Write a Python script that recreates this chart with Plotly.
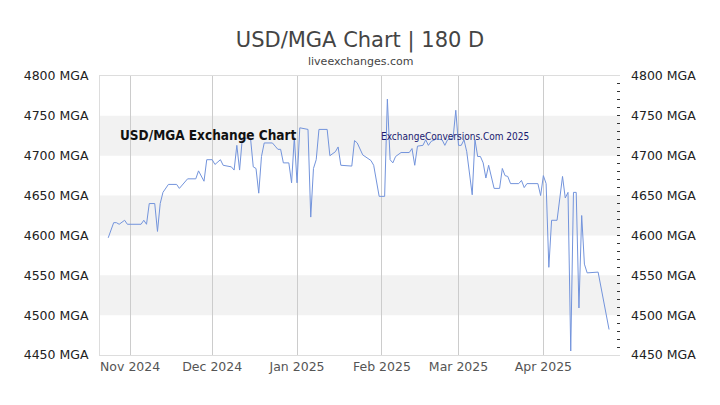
import plotly.graph_objects as go

dates = [
    "2024-10-24", "2024-10-26", "2024-10-27", "2024-10-28", "2024-10-30", "2024-10-31",
    "2024-11-05", "2024-11-06", "2024-11-07", "2024-11-08", "2024-11-10", "2024-11-11",
    "2024-11-12", "2024-11-13", "2024-11-15", "2024-11-18", "2024-11-19", "2024-11-22",
    "2024-11-25", "2024-11-26", "2024-11-28", "2024-11-29", "2024-12-01", "2024-12-02",
    "2024-12-04", "2024-12-05", "2024-12-08", "2024-12-09", "2024-12-10", "2024-12-11",
    "2024-12-12", "2024-12-15", "2024-12-16", "2024-12-17", "2024-12-18", "2024-12-19",
    "2024-12-20", "2024-12-23", "2024-12-24", "2024-12-25", "2024-12-26", "2024-12-27",
    "2024-12-29", "2024-12-30", "2024-12-31", "2025-01-01", "2025-01-02", "2025-01-05",
    "2025-01-06", "2025-01-07", "2025-01-08", "2025-01-09", "2025-01-12", "2025-01-13",
    "2025-01-15", "2025-01-16", "2025-01-17", "2025-01-21", "2025-01-22", "2025-01-23",
    "2025-01-25", "2025-01-26", "2025-01-28", "2025-01-29", "2025-01-31", "2025-02-02",
    "2025-02-03", "2025-02-04", "2025-02-05", "2025-02-06", "2025-02-08", "2025-02-11",
    "2025-02-12", "2025-02-13", "2025-02-14", "2025-02-16", "2025-02-17", "2025-02-18",
    "2025-02-19", "2025-02-21", "2025-02-23", "2025-02-24", "2025-02-25", "2025-02-27",
    "2025-02-28", "2025-03-01", "2025-03-02", "2025-03-03", "2025-03-04", "2025-03-06",
    "2025-03-07", "2025-03-08", "2025-03-09", "2025-03-10", "2025-03-11", "2025-03-12",
    "2025-03-14", "2025-03-16", "2025-03-17", "2025-03-18", "2025-03-19", "2025-03-20",
    "2025-03-23", "2025-03-24", "2025-03-25", "2025-03-26", "2025-03-30", "2025-03-31",
    "2025-04-01", "2025-04-02", "2025-04-03", "2025-04-04", "2025-04-06", "2025-04-08",
    "2025-04-09", "2025-04-10", "2025-04-11", "2025-04-12", "2025-04-13", "2025-04-14",
    "2025-04-15", "2025-04-16", "2025-04-17", "2025-04-21", "2025-04-25",
]
rates = [
    4597, 4616, 4616, 4614, 4619, 4614,
    4614, 4619, 4614, 4640, 4640, 4605,
    4640, 4654, 4664, 4664, 4659, 4671,
    4671, 4681, 4668, 4695, 4695, 4689,
    4695, 4688, 4686, 4682, 4713, 4682,
    4722, 4722, 4686, 4684, 4653, 4699,
    4716, 4716, 4712, 4708, 4708, 4691,
    4691, 4666, 4723, 4666, 4735, 4733,
    4623, 4684, 4695, 4733, 4733, 4700,
    4705, 4711, 4688, 4687, 4719, 4716,
    4701, 4699, 4694, 4688, 4649, 4649,
    4771, 4695, 4691, 4699, 4704, 4704,
    4709, 4688, 4712, 4713, 4720, 4713,
    4718, 4721, 4720, 4713, 4720, 4722,
    4757, 4713, 4713, 4720, 4705, 4651,
    4720, 4699, 4699, 4691, 4672, 4688,
    4659, 4659, 4684, 4675, 4674, 4665,
    4665, 4669, 4660, 4665, 4665, 4650,
    4675, 4665, 4560, 4619, 4619, 4674,
    4647, 4654, 4455, 4654, 4654, 4509,
    4625, 4564, 4553, 4554, 4482,
]

month_ticks = ["2024-11-01", "2024-12-01", "2025-01-01", "2025-02-01", "2025-03-01", "2025-04-01"]
month_labels = ["Nov 2024", "Dec 2024", "Jan 2025", "Feb 2025", "Mar 2025", "Apr 2025"]
y_ticks = [4450, 4500, 4550, 4600, 4650, 4700, 4750, 4800]
y_labels = [f"{v} MGA" for v in y_ticks]
x_range = ["2024-10-21", "2025-04-29"]

fig = go.Figure()
fig.add_trace(go.Scatter(x=dates, y=rates, mode="lines",
                         line=dict(color="#7394dc", width=1),
                         hoverinfo="skip", showlegend=False))
fig.add_trace(go.Scatter(x=dates, y=rates, mode="lines", yaxis="y2",
                         line=dict(color="rgba(0,0,0,0)", width=0),
                         hoverinfo="skip", showlegend=False))

# alternating bands
shapes = []
for i in range(1, len(y_ticks) - 1, 2):
    shapes.append(dict(type="rect", xref="paper", x0=0, x1=1, yref="y",
                       y0=y_ticks[i], y1=y_ticks[i + 1],
                       fillcolor="#f2f2f2", line=dict(width=0), layer="below"))

fig.update_layout(
    width=720, height=405,
    margin=dict(l=100, r=100, t=76, b=50),
    paper_bgcolor="white", plot_bgcolor="white",
    shapes=shapes,
    title=dict(text="USD/MGA Chart | 180 D", x=0.5, xanchor="center",
               y=1 - 40 / 405, yanchor="middle",
               font=dict(family="DejaVu Sans", size=21, color="#444")),
    xaxis=dict(type="date", range=x_range, tickvals=month_ticks, ticktext=month_labels,
               showgrid=True, gridcolor="#cccccc", gridwidth=1,
               showline=True, linecolor="#dddddd", mirror=True,
               ticks="", zeroline=False,
               tickfont=dict(family="DejaVu Sans", size=12.5, color="#555")),
    yaxis=dict(range=[4450, 4800], tickvals=y_ticks, ticktext=y_labels,
               showgrid=False, zeroline=False,
               showline=True, linecolor="#dddddd",
               ticks="", ticklabelstandoff=8,
               tickfont=dict(family="DejaVu Sans", size=12.5, color="#222")),
    yaxis2=dict(range=[4450, 4800], tickvals=y_ticks, ticktext=y_labels,
                overlaying="y", side="right", showgrid=False, zeroline=False,
                showline=False, ticks="inside", ticklen=3, tickcolor="#333",
                minor=dict(dtick=10, ticks="inside", ticklen=3, tickcolor="#333"),
                ticklabelstandoff=10,
                tickfont=dict(family="DejaVu Sans", size=12.5, color="#222")),
    annotations=[
        dict(text="liveexchanges.com", xref="paper", yref="paper",
             x=0.5, y=1 + 14 / 279, xanchor="center", yanchor="middle",
             showarrow=False, font=dict(family="DejaVu Sans", size=11, color="#444")),
        dict(text="<b>USD/MGA Exchange Chart</b>", xref="paper", yref="paper",
             x=18 / 520, y=1 - 59 / 279, xanchor="left", yanchor="middle",
             showarrow=False,
             font=dict(family="Liberation Sans Narrow, DejaVu Sans Condensed, sans-serif",
                       size=13.5, color="#111")),
        dict(text="ExchangeConversions.Com 2025", xref="paper", yref="paper",
             x=279 / 520, y=1 - 60 / 279, xanchor="left", yanchor="middle",
             showarrow=False,
             font=dict(family="Liberation Sans Narrow, DejaVu Sans Condensed, sans-serif",
                       size=10, color="#1a1a70")),
    ],
)

fig.write_html("out.html")
